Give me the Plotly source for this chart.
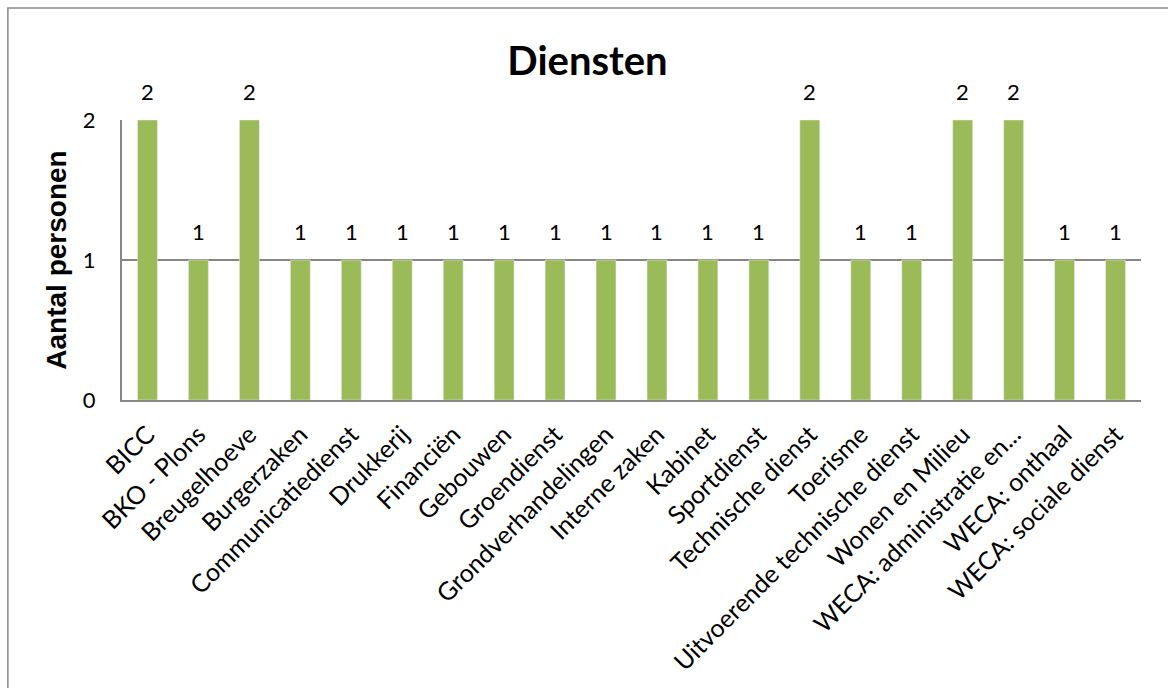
import plotly.graph_objects as go

categories = ["BICC", "BKO - Plons", "Breugelhoeve", "Burgerzaken", "Communicatiedienst",
              "Drukkerij", "Financiën", "Gebouwen", "Groendienst", "Grondverhandelingen",
              "Interne zaken", "Kabinet", "Sportdienst", "Technische dienst", "Toerisme",
              "Uitvoerende technische dienst", "Wonen en Milieu", "WECA: administratie en...",
              "WECA: onthaal", "WECA: sociale dienst"]
values = [2, 1, 2, 1, 1, 1, 1, 1, 1, 1, 1, 1, 1, 2, 1, 1, 2, 2, 1, 1]
tick_vals = [0, 1, 2]

fig = go.Figure(go.Bar(
    x=categories, y=values, marker_color="#9BBB59",
))

annotations = [dict(x=c, y=v, xref="x", yref="y", text=str(v), showarrow=False,
                    yshift=29, font=dict(family="Lato", size=22, color="black"))
               for c, v in zip(categories, values)]

fig.update_layout(
    width=1168, height=688,
    margin=dict(l=122, r=27, t=120, b=288),
    paper_bgcolor="white", plot_bgcolor="white",
    bargap=0.61,
    showlegend=False,
    annotations=annotations,
    title=dict(text="<b>Diensten</b>", x=0.503, xanchor="center", y=0.912, yanchor="middle",
               font=dict(family="Lato", size=40, color="black")),
    xaxis=dict(tickangle=-45, tickfont=dict(family="Lato", size=25, color="black"),
               showline=True, linecolor="#868686", linewidth=2, ticks="",
               ticklabelstandoff=8),
    yaxis=dict(range=[0, 2], tickvals=tick_vals, tickfont=dict(family="Lato", size=22, color="black"),
               showgrid=True, gridcolor="#868686", gridwidth=1.5,
               showline=True, linecolor="#868686", linewidth=2, ticks="",
               ticklabelstandoff=20,
               title=dict(text="<b>Aantal personen</b>", standoff=8,
                          font=dict(family="Liberation Sans", size=28, color="black")),
               zeroline=False),
    shapes=[dict(type="rect", xref="paper", yref="paper", x0=-0.112, x1=1.2, y0=-1.2, y1=1.4,
                 line=dict(color="#898989", width=1.5), fillcolor="rgba(0,0,0,0)", layer="below")],
)

fig.write_html("out.html")
